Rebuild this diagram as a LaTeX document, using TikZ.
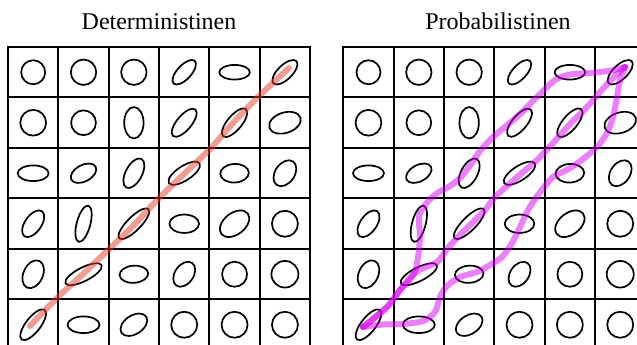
\documentclass[tikz,border=0pt]{standalone}
\usepackage{fontspec}
\setmainfont{Liberation Serif}
\definecolor{detred}{RGB}{230,60,40}
\definecolor{probmag}{RGB}{215,0,245}
\newcommand\cellgrid[1]{%
  \foreach \i in {1,...,5}{\draw[gridline] ({#1+\i*50.35},298) -- ({#1+\i*50.35},-10);}
  \foreach \j in {1,...,5}{\draw[gridline] (#1,{298-\j*50.5}) -- ({#1+6*50.35},{298-\j*50.5});}
  \draw[gridline] (#1,-10) -- (#1,298) -- ({#1+6*50.35},298) -- ({#1+6*50.35},-10);
}
\newcommand\ellgrid[1]{%
  \foreach \c/\r/\a/\b/\t in {
    1/1/12/12/0, 2/1/12.7/12.7/0, 3/1/12.7/12.7/0, 4/1/15.5/7/47, 5/1/15.3/7.3/0, 6/1/16/7.2/44,
    1/2/12.9/12.9/0, 2/2/12.4/12.4/0, 3/2/9.7/15.7/0, 4/2/17.3/7.3/50, 5/2/17.7/7.2/50, 6/2/16.3/10.2/18,
    1/3/15.5/7.8/0, 2/3/13.8/8.2/28, 3/3/16.2/8.2/62, 4/3/18.2/7.2/33, 5/3/14.3/9.3/3, 6/3/14.3/9.7/55,
    1/4/15.3/8.2/55, 2/4/18.7/6.8/75, 3/4/20.7/6.8/45, 4/4/14.8/9.2/0, 5/4/16.7/10.7/38, 6/4/13/13/0,
    1/5/14.7/9.7/65, 2/5/20.2/6.8/27, 3/5/14.3/8.6/4, 4/5/13.8/9.3/55, 5/5/12.5/12.5/0, 6/5/13.5/13.3/0,
    1/6/18.7/7.3/52, 2/6/16/8.3/0, 3/6/14.8/9.3/33, 4/6/13/13/0, 5/6/13/13/0, 6/6/13/13/0}{
    \pgfmathsetmacro\cx{#1+(\c-0.5)*50.35}
    \pgfmathsetmacro\cy{298-(\r-0.5)*50.5}
    \draw[ell, rotate around={\t:(\cx,\cy)}] (\cx,\cy) ellipse [x radius=\a, y radius=\b];
  }
}
\begin{document}
\begin{tikzpicture}[x=1pt,y=1pt,
  gridline/.style={line width=2pt, draw=black},
  ell/.style={line width=1.7pt, draw=black},
  detpath/.style={line width=6pt, draw=detred, opacity=0.5, line cap=round, line join=round},
  probpath/.style={line width=6pt, draw=probmag, opacity=0.5, line cap=round, line join=round},
  title/.style={font=\fontsize{24}{28}\selectfont, anchor=base, inner sep=0pt}]
\useasboundingbox (0,0) rectangle (637,345);
\clip (0,0) rectangle (637,345);
\fill[white] (0,0) rectangle (637,345);

\node[title] (t1) at (159,315.7) {Deterministinen};
\node[title] (t2) at (498,315.7) {Probabilistinen};

\cellgrid{8}
\cellgrid{343.3}
\ellgrid{8}
\ellgrid{343.3}

\draw[detpath] plot[smooth, tension=0.5] coordinates {(30,19) (58,48) (82,70) (108,95) (134,120) (159,147) (185,172) (210,196) (234,223) (259,249) (289,277)};

\draw[probpath] plot[smooth, tension=0.5] coordinates {(363,18) (387,38) (400,55) (414,71) (418,88) (420,108) (419,128) (425,140) (436,151) (450,159) (460,167) (469,178) (480,194) (493,208) (505,218) (520,231) (537,248) (555,265) (570,270.5) (590,272) (612,274.5) (625,278)};

\draw[probpath] plot[smooth, tension=0.5] coordinates {(363,18) (387,38) (400,55) (416,73) (437,83) (447,96) (457,107) (471,121) (485,135) (494,147) (507,159) (523,173) (537,185) (553,202) (570,221) (587,238) (600,253) (613,267) (625,278)};

\draw[probpath] plot[smooth, tension=0.5] coordinates {(363,18) (383,20.5) (403,21) (423,24) (435,33) (440,48) (447,59) (460,68) (477,73) (490,80) (502,88) (512,102) (520,118) (528,135) (538,150) (553,168) (567,175) (583,186) (597,198) (607,212) (613,228) (617,248) (620,265) (625,278)};
\end{tikzpicture}
\end{document}
